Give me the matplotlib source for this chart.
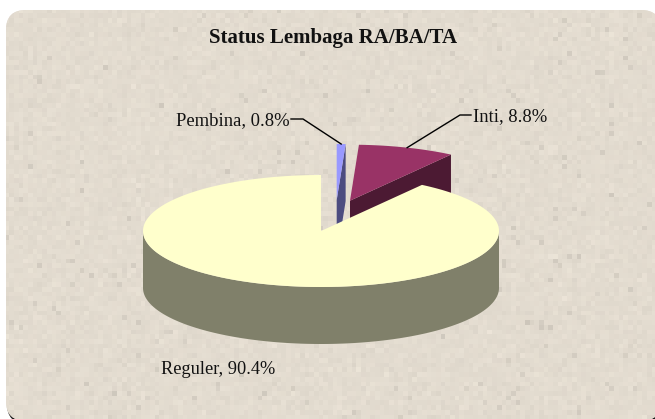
import matplotlib.pyplot as plt
from matplotlib.patches import FancyBboxPatch
import numpy as np

labels = ["Pembina", "Inti", "Reguler"]
shares = [0.8, 8.8, 90.4]
title = "Status Lembaga RA/BA/TA"

W, H = 655, 419
RX, RY, DEPTH = 178, 56, 57
# vertex of each slice in pixels, the two small ones are pulled out
centres = [(336.7, 200.0), (350.0, 200.7), (321.0, 231.0)]
top_colours = ["#9999ff", "#993366", "#ffffcc"]
side_colours = ["#4c4c80", "#4c1a33", "#80806a"]

plt.rcParams["font.family"] = ["Liberation Serif", "DejaVu Serif"]


def rim(centre, start, end, n=120):
    # angles clockwise from 12 o'clock, as the pie is seen from above
    a = np.radians(np.linspace(start, end, n))
    return centre[0] + RX * np.sin(a), centre[1] - RY * np.cos(a)


def draw_background(ax):
    rng = np.random.default_rng(4)
    tex = 227 + rng.normal(0, 2.6, (90, 144))
    specks = rng.random(tex.shape) < 0.02
    tex[specks] -= 14
    tex = tex[..., None] * np.array([1.0, 0.968, 0.915])
    # thin dark edge that only shows at the bottom corners
    shadow = FancyBboxPatch(
        (7, 14), W, H - 9, boxstyle="round,pad=0,rounding_size=20",
        fc="#1a1a1a", ec="none", zorder=0,
    )
    ax.add_patch(shadow)
    card = FancyBboxPatch(
        (6, 10), W, H - 8, boxstyle="round,pad=0,rounding_size=20",
        fc="#e2dacf", ec="none", zorder=0.5,
    )
    ax.add_patch(card)
    im = ax.imshow(
        tex / 255, extent=(0, W + 20, H + 5, 0), interpolation="nearest", zorder=1, aspect="auto"
    )
    im.set_clip_path(card)


def draw_pie(ax):
    edges = np.concatenate([[0], np.cumsum(shares) * 3.6])
    a0, a1 = edges[0], edges[1]
    a2, a3 = edges[2], edges[3]

    # small slices first, the big one covers their lower part
    for i, (start, end) in enumerate([(a0, a1), (a1, a2)]):
        c = centres[i]
        x, y = rim(c, end, end, 2)
        ax.fill(
            [c[0], x[0], x[0], c[0]],
            [c[1], y[0], y[0] + DEPTH, c[1] + DEPTH],
            color=side_colours[i], lw=0, zorder=2,
        )
        x, y = rim(c, start, end)
        ax.fill(
            np.r_[c[0], x], np.r_[c[1], y], color=top_colours[i], lw=0, zorder=3
        )

    c = centres[2]
    x, y = rim(c, 90, 270)
    ax.fill(
        np.r_[x, x[::-1]], np.r_[y, y[::-1] + DEPTH],
        color=side_colours[2], lw=0, zorder=4,
    )
    x, y = rim(c, a2, a3, 300)
    ax.fill(np.r_[c[0], x], np.r_[c[1], y], color=top_colours[2], lw=0, zorder=5)


def draw_labels(ax):
    edges = np.concatenate([[0], np.cumsum(shares) * 3.6])
    text = ["{}, {}%".format(n, s) for n, s in zip(labels, shares)]

    x, y = rim(centres[0], edges[:2].mean(), edges[:2].mean(), 2)
    ax.plot([291, 303, x[0]], [119, 119, y[0]], color="black", lw=1, zorder=6)
    ax.text(290, 120.5, text[0], ha="right", va="center", fontsize=13.4, color="#111111", zorder=7)

    x, y = rim(centres[1], edges[1:3].mean(), edges[1:3].mean(), 2)
    ax.plot([471, 460, x[0]], [115, 115, y[0]], color="black", lw=1, zorder=6)
    ax.text(473, 116.5, text[1], ha="left", va="center", fontsize=13.4, color="#111111", zorder=7)

    ax.text(161, 369.5, text[2], ha="left", va="center", fontsize=13.2, color="#111111", zorder=7)
    ax.text(333.5, 37.5, title, ha="center", va="center", fontsize=15, fontweight="bold", color="#111111", zorder=7)


fig = plt.figure(figsize=(W / 100, H / 100), dpi=100)
ax = fig.add_axes([0, 0, 1, 1])
draw_background(ax)
draw_pie(ax)
draw_labels(ax)
ax.set_xlim(0, W)
ax.set_ylim(H, 0)
ax.axis("off")
fig.savefig("out.png", dpi=100, facecolor="white")
